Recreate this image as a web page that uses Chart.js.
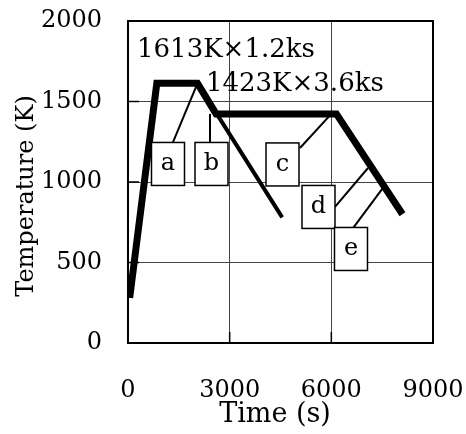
<!DOCTYPE html>
<html>
<head>
<meta charset="utf-8">
<script src="https://cdn.jsdelivr.net/npm/chart.js@4.4.1/dist/chart.umd.min.js"></script>
<style>
  html, body { margin: 0; padding: 0; background: #fff; }
  #wrap { width: 466px; height: 434px; }
</style>
</head>
<body>
<div id="wrap"><canvas id="chart" width="466" height="434"></canvas></div>
<script>
// heat treatment path (time in s, temperature in K)
const mainTime = [50, 850, 2050, 2600, 6150, 8100];
const mainTemp = [280, 1613, 1613, 1423, 1423, 800];
const quenchTime = [2050, 4550];
const quenchTemp = [1613, 780];

const xTicks = [0, 3000, 6000, 9000];
const yTicks = [0, 500, 1000, 1500, 2000];

// labelled boxes and the leader lines pointing at the path
const boxLetters = ["a", "b", "c", "d", "e"];
const boxTime = [1180, 2464, 4559, 5621, 6580];
const boxTemp = [1112, 1112, 1109, 845, 584];
const leaderFromTime = [1328, 2420, 5075, 6108, 6640];
const leaderFromTemp = [1248, 1248, 1211, 845, 714];
const leaderToTime = [2050, 2420, 6000, 7082, 7524];
const leaderToTemp = [1613, 1423, 1423, 1087, 963];

const noteTexts = ["1613K×1.2ks", "1423K×3.6ks"];
const noteTime = [266, 2300];
const noteTemp = [1820, 1609];

const FONT = "'DejaVu Serif', 'Liberation Serif', serif";

function toPoints(xs, ys) {
  return xs.map((x, i) => ({ x, y: ys[i] }));
}

const decorations = {
  id: "decorations",
  afterDatasetsDraw(chart) {
    const { ctx, chartArea: a, scales } = chart;
    const sx = scales.x, sy = scales.y;
    ctx.save();

    // leader lines
    ctx.strokeStyle = "#000";
    ctx.lineWidth = 2;
    boxLetters.forEach((_, i) => {
      ctx.beginPath();
      ctx.moveTo(sx.getPixelForValue(leaderFromTime[i]), sy.getPixelForValue(leaderFromTemp[i]));
      ctx.lineTo(sx.getPixelForValue(leaderToTime[i]), sy.getPixelForValue(leaderToTemp[i]));
      ctx.stroke();
    });

    // boxes
    const bw = 33, bh = 43;
    ctx.font = "24px " + FONT;
    ctx.textAlign = "center";
    ctx.textBaseline = "middle";
    boxLetters.forEach((letter, i) => {
      const cx = sx.getPixelForValue(boxTime[i]);
      const cy = sy.getPixelForValue(boxTemp[i]);
      ctx.fillStyle = "#fff";
      ctx.fillRect(cx - bw / 2, cy - bh / 2, bw, bh);
      ctx.lineWidth = 1.5;
      ctx.strokeRect(cx - bw / 2, cy - bh / 2, bw, bh);
      ctx.fillStyle = "#000";
      ctx.fillText(letter, cx, cy);
    });

    // notes
    ctx.font = "26px " + FONT;
    ctx.textAlign = "left";
    noteTexts.forEach((t, i) => {
      ctx.fillText(t, sx.getPixelForValue(noteTime[i]), sy.getPixelForValue(noteTemp[i]));
    });

    // frame
    ctx.lineWidth = 2;
    ctx.strokeRect(a.left, a.top, a.right - a.left, a.bottom - a.top);

    // inward ticks
    ctx.lineWidth = 1.5;
    xTicks.slice(1, -1).forEach((v) => {
      const x = sx.getPixelForValue(v);
      ctx.beginPath();
      ctx.moveTo(x, a.bottom);
      ctx.lineTo(x, a.bottom - 11);
      ctx.stroke();
    });
    yTicks.slice(1, -1).forEach((v) => {
      const y = sy.getPixelForValue(v);
      ctx.beginPath();
      ctx.moveTo(a.left, y);
      ctx.lineTo(a.left + 11, y);
      ctx.stroke();
    });

    // axis titles
    ctx.textAlign = "center";
    ctx.textBaseline = "middle";
    ctx.font = "27px " + FONT;
    ctx.fillText("Time (s)", 275, 415);
    ctx.font = "24px " + FONT;
    ctx.translate(27, 196);
    ctx.rotate(-Math.PI / 2);
    ctx.fillText("Temperature (K)", 0, 0);
    ctx.restore();
  },
};

new Chart(document.getElementById("chart"), {
  type: "line",
  data: {
    datasets: [
      {
        data: toPoints(mainTime, mainTemp),
        borderColor: "#000",
        borderWidth: 7,
        borderJoinStyle: "miter",
        pointRadius: 0,
        tension: 0,
      },
      {
        data: toPoints(quenchTime, quenchTemp),
        borderColor: "#000",
        borderWidth: 4,
        pointRadius: 0,
        tension: 0,
      },
    ],
  },
  options: {
    responsive: false,
    animation: false,
    layout: { padding: { top: 21, right: 33, left: 0, bottom: 0 } },
    plugins: {
      legend: { display: false },
      tooltip: { enabled: false },
    },
    scales: {
      x: {
        type: "linear",
        min: 0,
        max: 9000,
        afterFit: (s) => {
          s.height = 91;
          s.paddingLeft = 0;
          s.paddingRight = 0;
        },
        afterBuildTicks: (s) => { s.ticks = xTicks.map((v) => ({ value: v })); },
        grid: { color: "#444", lineWidth: 1, borderDash: [1, 1], drawTicks: false },
        border: { display: false },
        ticks: {
          padding: 33,
          color: "#000",
          maxRotation: 0,
          font: { family: FONT, size: 24 },
          callback: (v) => String(v),
        },
      },
      y: {
        min: 0,
        max: 2000,
        afterFit: (s) => {
          s.width = 128;
          s.paddingTop = 0;
          s.paddingBottom = 0;
        },
        afterBuildTicks: (s) => { s.ticks = yTicks.map((v) => ({ value: v })); },
        grid: { color: "#444", lineWidth: 1, borderDash: [1, 1], drawTicks: false },
        border: { display: false },
        ticks: {
          padding: 26,
          color: "#000",
          font: { family: FONT, size: 24 },
          callback: (v) => String(v),
        },
      },
    },
  },
  plugins: [decorations],
});
</script>
</body>
</html>
